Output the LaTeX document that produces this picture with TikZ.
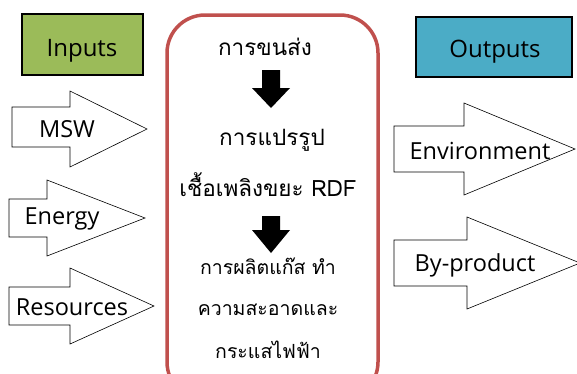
\documentclass[tikz,border=0pt]{standalone}
\usepackage{fontspec}
\setmainfont{Open Sans}
\newfontfamily\thaifont[Script=Thai]{Loma}
\definecolor{ingreen}{HTML}{9BBB59}
\definecolor{outblue}{HTML}{4BACC6}
\definecolor{procred}{HTML}{C0504D}
\begin{document}
\begin{tikzpicture}[x=1pt,y=-1pt,
  hdr/.style={draw=black,line width=2.5pt,inner sep=0pt},
  hdrtext/.style={font=\fontsize{24}{26}\selectfont,inner sep=0pt},
  blk/.style={draw=black,line width=0.6pt,fill=white},
  lbl/.style={font=\fontsize{23.5}{26}\selectfont,inner sep=0pt},
  th/.style={font=\thaifont\fontsize{22.5}{26}\selectfont,inner sep=0pt},
  thsmall/.style={font=\thaifont\fontsize{19.5}{22}\selectfont,inner sep=0pt},
  down/.style={fill=black,draw=none}]
\useasboundingbox (0,0) rectangle (577,373);
\clip (0,0) rectangle (577,373);
% headers
\node[hdr,fill=ingreen,minimum width=121pt,minimum height=61pt] (inputs) at (82.5,44.5) {};
\node[hdrtext] (inputst) at (82,51) {Inputs};
\node[hdr,fill=outblue,minimum width=156pt,minimum height=60pt] (outputs) at (494,47) {};
\node[hdrtext] (outputst) at (495,52) {Outputs};
% input arrows
\draw[blk] (12,107) -- (70,107) -- (70,91) -- (147,129) -- (70,167) -- (70,147) -- (12,147) -- cycle;
\node[lbl] (msw) at (67,129) {MSW};
\draw[blk] (9,199) -- (47,199) -- (47,180) -- (145,218) -- (47,256) -- (47,237) -- (9,237) -- cycle;
\node[lbl] (energy) at (62,219) {Energy};
\draw[blk] (9,287) -- (70,287) -- (70,268) -- (154,306) -- (70,344) -- (70,325) -- (9,325) -- cycle;
\node[lbl] (res) at (72,307) {Resources};
% output arrows
\draw[blk] (394,126) -- (464,126) -- (464,103) -- (575,149) -- (464,195) -- (464,172) -- (394,172) -- cycle;
\node[lbl] (env) at (480,151) {Environment};
\draw[blk] (394,240) -- (467,240) -- (467,217) -- (580,263) -- (467,309) -- (467,286) -- (394,286) -- cycle;
\node[lbl] (byp) at (475,265) {By-product};
% process box
\draw[procred,line width=3.5pt,rounded corners=38pt] (167,15) rectangle (378,400);
\node[th] (t1) at (265,47) {การขนส่ง};
\fill[down] (262,70) -- (280,70) -- (280,88) -- (290,88) -- (271,108) -- (252,88) -- (262,88) -- cycle;
\node[th] (t2) at (272,140) {การแปรรูป};
\node[th] (t3) at (268,185) {เชื้อเพลิงขยะ RDF};
\fill[down] (262,216) -- (280,216) -- (280,230) -- (290,230) -- (271,253) -- (252,230) -- (262,230) -- cycle;
\node[thsmall] (t4) at (268,266) {การผลิตแก๊ส ทำ};
\node[thsmall] (t5) at (268,310) {ความสะอาดและ};
\node[thsmall] (t6) at (268,350) {กระแสไฟฟ้า};
\end{tikzpicture}
\end{document}
